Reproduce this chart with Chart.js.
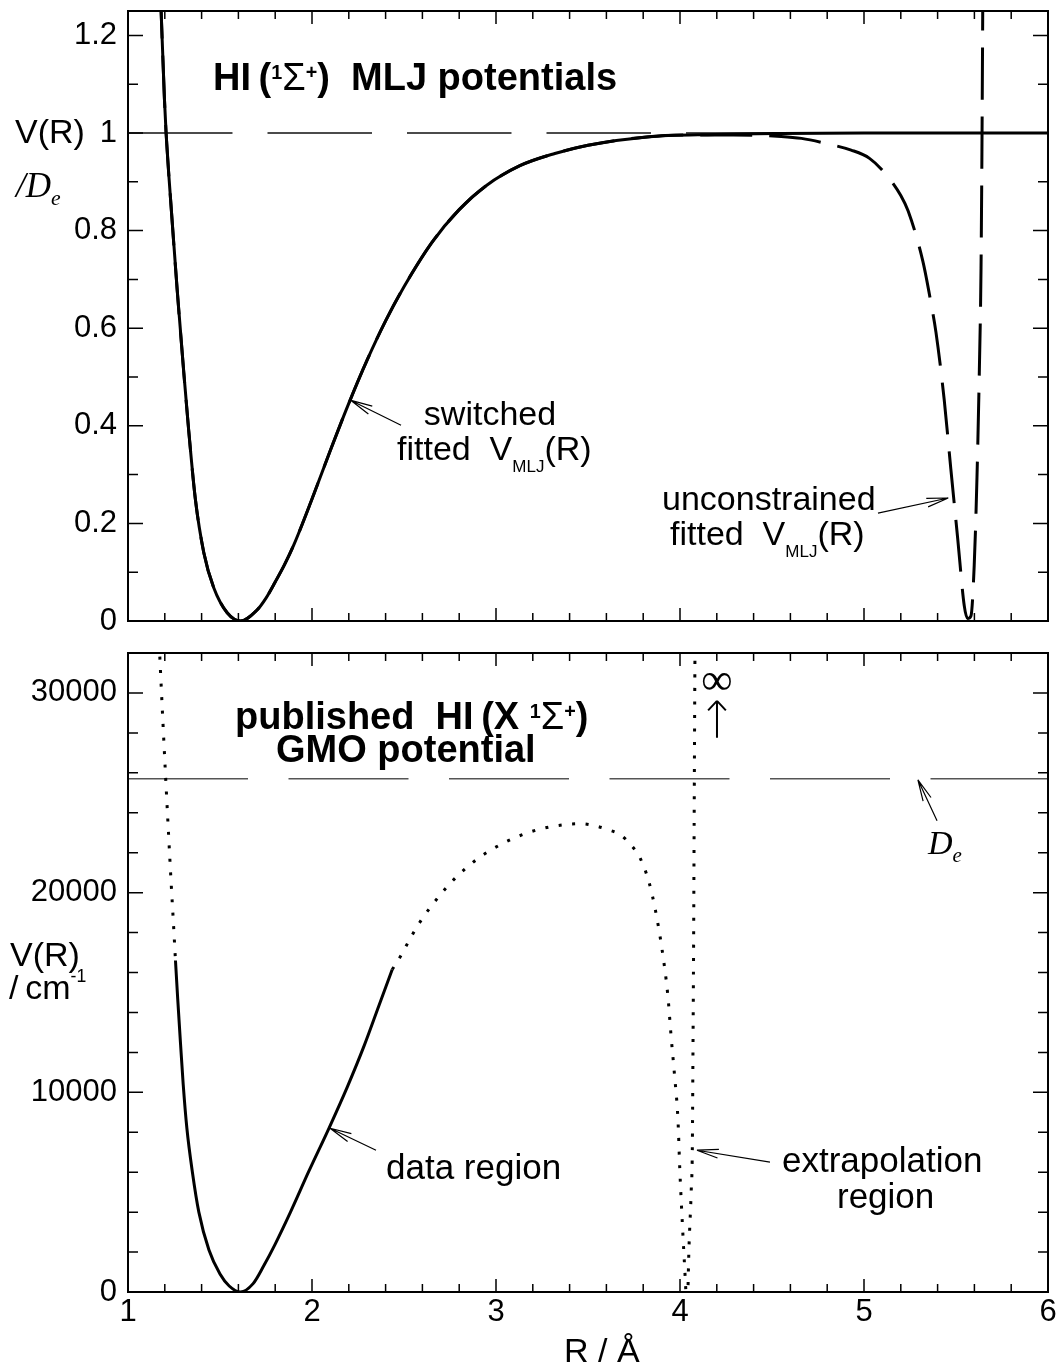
<!DOCTYPE html>
<html>
<head>
<meta charset="utf-8">
<script src="https://cdn.jsdelivr.net/npm/chart.js@4.4.1/dist/chart.umd.min.js"></script>
<style>
html,body{margin:0;padding:0;background:#fff;}
#page{position:relative;width:1059px;height:1367px;overflow:hidden;font-family:"Liberation Sans",Arial,sans-serif;color:#000;}
#page canvas{position:absolute;left:0;}
#cTop{top:0;}
#cBot{top:640px;}
.t{position:absolute;line-height:1;white-space:pre;}
.b{font-weight:bold;}
.ser{font-family:"Liberation Serif","Times New Roman",serif;font-style:italic;}
.serup{font-family:"Liberation Serif","Times New Roman",serif;}
.sup{position:relative;font-size:52%;top:-0.55em;}
.sub{position:relative;font-size:50%;top:0.7em;}
.sup2{position:relative;font-size:52%;top:-0.95em;}
.sube{position:relative;font-size:62%;top:0.35em;}
.nb{font-weight:normal;}
</style>
</head>
<body>
<div id="page">
  <canvas id="cTop" width="1059" height="640"></canvas>
  <canvas id="cBot" width="1059" height="727"></canvas>
</div>
<script>
// ---- ticks ----
const xTicks = [1, 2, 3, 4, 5, 6];
const xLabels = ['1', '2', '3', '4', '5', '6'];
const xMinor = [1.2, 1.4, 1.6, 1.8, 2.2, 2.4, 2.6, 2.8, 3.2, 3.4, 3.6, 3.8, 4.2, 4.4, 4.6, 4.8, 5.2, 5.4, 5.6, 5.8];
const yTopTicks = [0, 0.2, 0.4, 0.6, 0.8, 1, 1.2];
const yTopLabels = ['0', '0.2', '0.4', '0.6', '0.8', '1', '1.2'];
const yTopMinor = [0.1, 0.3, 0.5, 0.7, 0.9, 1.1];
const yBotTicks = [0, 10000, 20000, 30000];
const yBotLabels = ['0', '10000', '20000', '30000'];
const yBotMinor = [2000, 4000, 6000, 8000, 12000, 14000, 16000, 18000, 22000, 24000, 26000, 28000];

// ---- top panel: MLJ potentials, V/De ----
const switchedR = [1.175, 1.180, 1.198, 1.207, 1.236, 1.267, 1.303, 1.330, 1.366, 1.412, 1.466, 1.539, 1.611, 1.700, 1.750, 1.800, 1.850, 1.900, 2.000, 2.100, 2.200, 2.300, 2.400, 2.500, 2.650, 2.800, 2.950, 3.130, 3.320, 3.500, 3.820, 4.190, 4.550, 5.000, 6.000];
const switchedV = [1.30, 1.25, 1.07, 1.00, 0.84, 0.68, 0.51, 0.39, 0.25, 0.14, 0.068, 0.017, 0, 0.022, 0.047, 0.080, 0.115, 0.155, 0.250, 0.350, 0.446, 0.535, 0.615, 0.685, 0.775, 0.843, 0.893, 0.933, 0.958, 0.975, 0.992, 0.997, 0.999, 1.000, 1.000];

const unconR = [1.175, 1.180, 1.198, 1.207, 1.236, 1.267, 1.303, 1.330, 1.366, 1.412, 1.466, 1.539, 1.611, 1.700, 1.750, 1.800, 1.850, 1.900, 2.000, 2.100, 2.200, 2.300, 2.400, 2.500, 2.650, 2.800, 2.950, 3.130, 3.320, 3.500, 3.820, 4.040, 4.290, 4.550, 4.660, 4.800, 4.930, 5.030, 5.120, 5.200, 5.240, 5.320, 5.363, 5.391, 5.436, 5.472, 5.509, 5.545, 5.563, 5.581, 5.599, 5.614, 5.627, 5.636, 5.641, 5.646];
const unconV = [1.30, 1.25, 1.07, 1.00, 0.84, 0.68, 0.51, 0.39, 0.25, 0.14, 0.068, 0.017, 0, 0.022, 0.047, 0.080, 0.115, 0.155, 0.250, 0.350, 0.446, 0.535, 0.615, 0.685, 0.775, 0.843, 0.893, 0.933, 0.958, 0.975, 0.992, 0.996, 0.996, 0.993, 0.989, 0.978, 0.965, 0.948, 0.915, 0.872, 0.840, 0.737, 0.654, 0.592, 0.453, 0.311, 0.170, 0.031, 0.005, 0.010, 0.114, 0.294, 0.516, 0.723, 0.965, 1.30];

const oneR = [1, 6];
const oneV = [1, 1];

// ---- bottom panel: GMO potential, cm-1 ----
const gmoInR = [1.1695, 1.176, 1.190, 1.205, 1.220, 1.235, 1.248, 1.258];
const gmoInV = [32500, 31200, 28500, 25700, 23000, 20400, 18300, 16600];
const dataR = [1.258, 1.270, 1.285, 1.300, 1.320, 1.350, 1.385, 1.440, 1.500, 1.550, 1.611, 1.680, 1.740, 1.800, 1.883, 1.983, 2.092, 2.191, 2.282, 2.364, 2.436];
const dataV = [16600, 14700, 12500, 10400, 8200, 6000, 4000, 2100, 900, 300, 0, 420, 1350, 2400, 4000, 6050, 8200, 10250, 12300, 14350, 16150];
const gmoOutR = [2.436, 2.481, 2.536, 2.590, 2.681, 2.781, 2.898, 3.025, 3.152, 3.297, 3.461, 3.541, 3.613, 3.677, 3.735, 3.782, 3.831, 3.867, 3.903, 3.934, 3.952, 3.970, 3.989, 3.999, 4.014, 4.027, 4.032, 4.036];
const gmoOutV = [16150, 16810, 17740, 18570, 19710, 20750, 21680, 22410, 22930, 23300, 23450, 23340, 23140, 22890, 22370, 21750, 20540, 19090, 17120, 14840, 12760, 10890, 8610, 6120, 3200, 930, 0, -1000];
const poleR = [4.040, 4.043, 4.048, 4.061, 4.067, 4.070, 4.074, 4.077, 4.081, 4.082];
const poleV = [-1000, 0, 1970, 5080, 7160, 11310, 17530, 23760, 31440, 32500];
const deR = [1, 6];
const deV = [25700, 25700];

// ---- helpers ----
function pts(xs, ys){ return xs.map((x, i) => ({ x, y: ys[i] })); }

function curve(data, width, dash, color){
  return {
    data, borderColor: color || '#000', borderWidth: width, borderDash: dash || [],
    pointRadius: 0, fill: false, cubicInterpolationMode: 'monotone',
    borderCapStyle: 'butt', borderJoinStyle: 'round'
  };
}

function drawArrow(ctx, x0, y0, x1, y1, head, spread, width){
  const ang = Math.atan2(y0 - y1, x0 - x1);
  ctx.lineWidth = width;
  ctx.beginPath();
  ctx.moveTo(x0, y0); ctx.lineTo(x1, y1);
  [-spread, spread].forEach(d => {
    ctx.moveTo(x1, y1);
    ctx.lineTo(x1 + head*Math.cos(ang + d), y1 + head*Math.sin(ang + d));
  });
  ctx.stroke();
}

// frame, inward ticks and arrows
const frameTicks = {
  id: 'frameTicks',
  afterDraw(chart, args, o){
    const { ctx, chartArea: a, scales: { x, y } } = chart;
    ctx.save();
    ctx.strokeStyle = '#000';
    ctx.lineWidth = 2;
    ctx.strokeRect(a.left, a.top, a.right - a.left, a.bottom - a.top);
    ctx.lineWidth = 1.5;
    ctx.beginPath();
    const xt = (v, len) => {
      const p = x.getPixelForValue(v);
      ctx.moveTo(p, a.bottom); ctx.lineTo(p, a.bottom - len);
      ctx.moveTo(p, a.top); ctx.lineTo(p, a.top + len);
    };
    const yt = (v, len) => {
      const p = y.getPixelForValue(v);
      ctx.moveTo(a.left, p); ctx.lineTo(a.left + len, p);
      ctx.moveTo(a.right, p); ctx.lineTo(a.right - len, p);
    };
    xTicks.forEach(v => xt(v, 13));
    xMinor.forEach(v => xt(v, 8));
    o.yMajor.forEach(v => yt(v, 15));
    o.yMinor.forEach(v => yt(v, 10));
    ctx.stroke();
    (o.arrows || []).forEach(ar => {
      drawArrow(ctx,
        x.getPixelForValue(ar.from[0]), y.getPixelForValue(ar.from[1]),
        x.getPixelForValue(ar.to[0]), y.getPixelForValue(ar.to[1]),
        ar.head || 22, ar.spread || 0.2, ar.width || 1.2);
    });
    ctx.restore();
  }
};

function yScale(min, max, ticks, labels){
  return {
    type: 'linear', position: 'left', min, max,
    grid: { display: false, drawTicks: false }, border: { display: false },
    ticks: {
      color: '#000', padding: 11,
      font: { family: 'Liberation Sans', size: 31, lineHeight: 0.6 },
      callback: (v, i) => labels[i]
    },
    afterBuildTicks: s => { s.ticks = ticks.map(v => ({ value: v })); },
    afterFit: s => { s.width = 128; s.paddingTop = 0; s.paddingBottom = 0; }
  };
}

function xScale(showLabels, h){
  return {
    type: 'linear', position: 'bottom', min: 1, max: 6,
    grid: { display: false, drawTicks: false }, border: { display: false },
    ticks: {
      display: showLabels, color: '#000', padding: 2, maxRotation: 0, autoSkip: false,
      font: { family: 'Liberation Sans', size: 31, lineHeight: 1.2 },
      callback: (v, i) => xLabels[i]
    },
    afterBuildTicks: s => { s.ticks = xTicks.map(v => ({ value: v })); },
    afterFit: s => { s.height = h; s.paddingLeft = 0; s.paddingRight = 0; }
  };
}

const baseOpts = {
  responsive: false, animation: false, devicePixelRatio: 1,
  events: []
};

// top chart
new Chart(document.getElementById('cTop'), {
  type: 'line',
  data: {
    datasets: [
      curve(pts(switchedR, switchedV), 3),
      curve(pts(unconR, unconV), 3, [52, 17]),
      curve(pts(oneR, oneV), 1.6, [104.5, 35], '#111')
    ]
  },
  options: Object.assign({}, baseOpts, {
    layout: { padding: { top: 11, right: 11, left: 0, bottom: 0 } },
    scales: { x: xScale(false, 19), y: yScale(0, 1.25, yTopTicks, yTopLabels) },
    plugins: {
      legend: { display: false }, tooltip: { enabled: false },
      frameTicks: {
        yMajor: yTopTicks, yMinor: yTopMinor,
        arrows: [
          { from: [2.484, 0.401], to: [2.212, 0.452] },
          { from: [5.076, 0.221], to: [5.458, 0.252] }
        ]
      }
    }
  }),
  plugins: [frameTicks]
});

// bottom chart
new Chart(document.getElementById('cBot'), {
  type: 'line',
  data: {
    datasets: [
      curve(pts(dataR, dataV), 3),
      curve(pts(gmoInR, gmoInV), 3, [3, 10.5]),
      curve(pts(gmoOutR, gmoOutV), 3, [3, 10.5]),
      curve(pts(poleR, poleV), 3, [3, 10.5]),
      curve(pts(deR, deV), 1.5, [120, 40.5], '#555')
    ]
  },
  options: Object.assign({}, baseOpts, {
    layout: { padding: { top: 13, right: 11, left: 0, bottom: 0 } },
    scales: { x: xScale(true, 75), y: yScale(0, 32000, yBotTicks, yBotLabels) },
    plugins: {
      legend: { display: false }, tooltip: { enabled: false },
      frameTicks: {
        yMajor: yBotTicks, yMinor: yBotMinor,
        arrows: [
          { from: [2.348, 7100], to: [2.098, 8200] },
          { from: [4.489, 6500], to: [4.092, 7100] },
          { from: [5.397, 23600], to: [5.293, 25650] },
          { from: [4.201, 27750], to: [4.201, 29600], head: 13, spread: 0.75, width: 2 }
        ]
      }
    }
  }),
  plugins: [frameTicks]
});

// ---- text overlays: [html, x, baseline, size, class, centered] ----
const notes = [
  ['HI\u2009(<span class="sup">1</span><span class="nb">Σ</span><span class="sup">+</span>)  MLJ potentials', 213, 90, 38, 'b'],
  ['V(R)', 15, 143, 34, ''],
  ['/D<span class="sube">e</span>', 16, 198, 35, 'ser'],
  ['switched', 490, 425, 34, '', true],
  ['fitted  V<span class="sub">MLJ</span>(R)', 397, 460, 34, ''],
  ['unconstrained', 662, 510, 34, ''],
  ['fitted  V<span class="sub">MLJ</span>(R)', 670, 545, 34, ''],
  ['published  HI\u2009(X <span class="sup">1</span><span class="nb">Σ</span><span class="sup">+</span>)', 235, 729, 38, 'b'],
  ['GMO potential', 276, 762, 38, 'b'],
  ['∞', 717, 695, 44, 'serup', true],
  ['D<span class="sube">e</span>', 928, 855, 34, 'ser'],
  ['V(R)', 10, 966, 34, ''],
  ['/\u2009cm<span class="sup2">-1</span>', 9, 999, 34, ''],
  ['data region', 386, 1179, 35, ''],
  ['extrapolation', 782, 1172, 35, ''],
  ['region', 837, 1208, 35, ''],
  ['R / Å', 564, 1362, 34, '']
];

const page = document.getElementById('page');
notes.forEach(([html, x, base, size, cls, center]) => {
  const d = document.createElement('div');
  d.className = 't ' + cls;
  d.innerHTML = html;
  d.style.fontSize = size + 'px';
  d.style.left = x + 'px';
  d.style.top = (base - 0.845*size) + 'px';
  if(center) d.style.transform = 'translateX(-50%)';
  page.appendChild(d);
});
</script>
</body>
</html>
